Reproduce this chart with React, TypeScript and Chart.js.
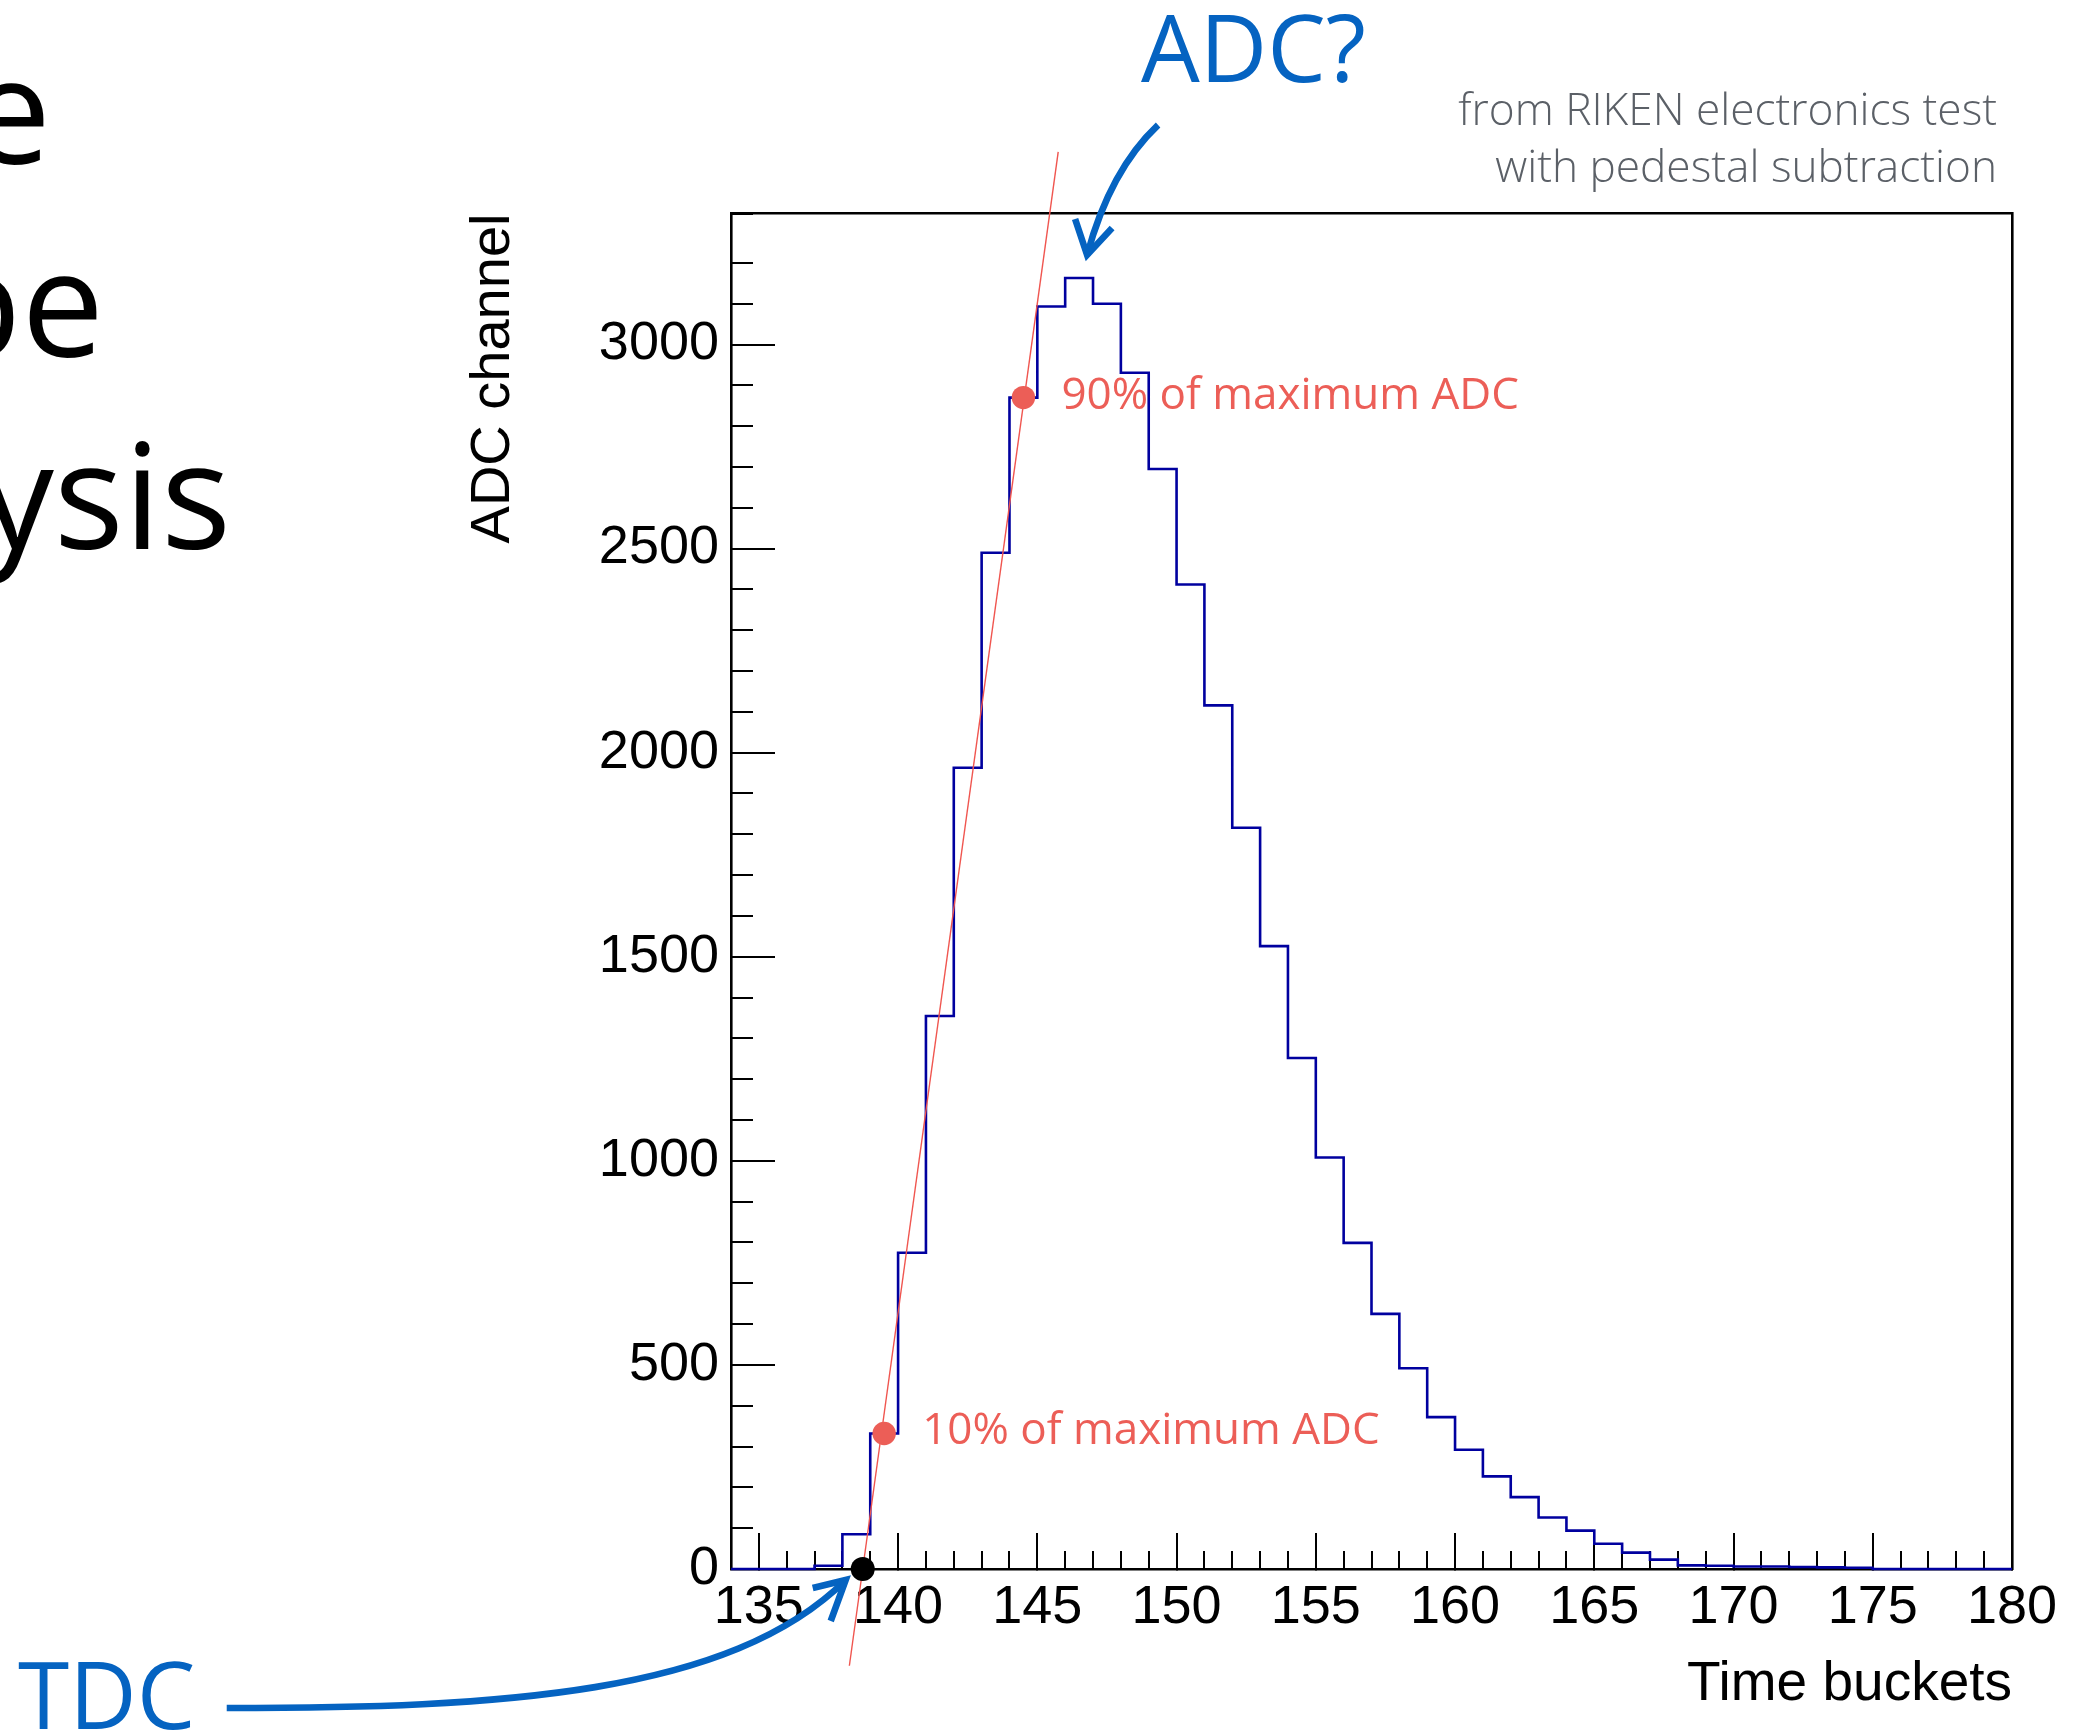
import React, { useEffect, useRef } from 'react';
import { Chart, registerables } from 'chart.js';

Chart.register(...registerables);

// ---------- data ----------
// lower edges of the time-bucket bins and their ADC content
const binEdges = [
  134, 135, 136, 137, 138, 139, 140, 141, 142, 143, 144, 145, 146, 147, 148, 149,
  150, 151, 152, 153, 154, 155, 156, 157, 158, 159, 160, 161, 162, 163, 164, 165,
  166, 167, 168, 169, 170, 171, 172, 173, 174, 175, 176, 177, 178, 179,
];
const adcValues = [
  0, 0, 0, 8, 85, 332, 775, 1355, 1963, 2490, 2870, 3093, 3163, 3100, 2931, 2695,
  2412, 2116, 1816, 1526, 1252, 1008, 799, 625, 492, 372, 292, 227, 176, 126, 94, 62,
  40, 23, 9, 8, 6, 6, 5, 4, 3, 0, 0, 0, 0, 0,
];
const histEnd = 180;

// straight line through the 10% / 90% points (extended)
const fitX = [138.25, 145.75];
const fitY = [-237, 3472];

// 10% and 90% of maximum markers
const markerX = [139.5, 144.5];
const markerY = [332, 2870];
const markerLabels = ['10% of maximum ADC', '90% of maximum ADC'];

// TDC (zero crossing of the line)
const tdcX = [138.73];
const tdcY = [0];

// axes
const xRange = [134, 180];
const yRange = [0, 3321];
const xMajorTicks = [135, 140, 145, 150, 155, 160, 165, 170, 175, 180];
const yMajorTicks = [0, 500, 1000, 1500, 2000, 2500, 3000];
const xMinorStep = 1;
const yMinorStep = 100;
const xTitle = 'Time buckets';
const yTitle = 'ADC channel';

// slide texts
const titleFragments = ['Pulse', 'shape', 'analysis'];
const noteLines = ['from RIKEN electronics test', 'with pedestal subtraction'];
const adcQuestion = 'ADC?';
const tdcLabel = 'TDC';

const BLUE = '#0563c1';
const RED = '#ec5e57';
const HIST = '#00009f';
const AXIS_FONT = '"Liberation Sans", Arial, Helvetica, sans-serif';
const SLIDE_FONT = '"Open Sans", "Noto Sans", sans-serif';

const annotationPlugin = {
  id: 'slideAnnotations',
  afterDraw(chart: any) {
    const ctx = chart.ctx as CanvasRenderingContext2D;
    const xs = chart.scales.x;
    const ys = chart.scales.y;
    ctx.save();

    // cut-off slide title on the left
    ctx.fillStyle = '#000';
    ctx.font = `400 147px ${SLIDE_FONT}`;
    ctx.textAlign = 'right';
    ctx.textBaseline = 'alphabetic';
    const fragRight = [51, 104, 231];
    const fragBase = [164, 357, 549];
    titleFragments.forEach((t, i) => ctx.fillText(t, fragRight[i], fragBase[i]));

    // note top right
    ctx.fillStyle = '#5b6067';
    ctx.font = `300 44.2px ${SLIDE_FONT}`;
    ctx.fillText(noteLines[0], 1997, 125);
    ctx.fillText(noteLines[1], 1997, 182);

    // blue labels
    ctx.textAlign = 'left';
    ctx.fillStyle = BLUE;
    ctx.font = `500 93px ${SLIDE_FONT}`;
    ctx.fillText(adcQuestion, 1141, 82);
    ctx.fillText(tdcLabel, 18, 1729);

    // threshold labels
    ctx.fillStyle = RED;
    ctx.font = `400 44px ${SLIDE_FONT}`;
    markerX.forEach((mx, i) => {
      ctx.fillText(markerLabels[i], xs.getPixelForValue(mx) + 38, ys.getPixelForValue(markerY[i]) + 11);
    });

    // arrows
    ctx.strokeStyle = BLUE;
    ctx.lineWidth = 6.6;
    ctx.lineCap = 'butt';
    ctx.lineJoin = 'miter';

    // ADC arrow pointing at the peak
    const peakVal = Math.max(...adcValues);
    const peakIdx = adcValues.indexOf(peakVal);
    const ax = xs.getPixelForValue(binEdges[peakIdx] + 0.5) + 8;
    const ay = ys.getPixelForValue(peakVal) - 23;
    ctx.beginPath();
    ctx.moveTo(ax + 71, ay - 130);
    ctx.quadraticCurveTo(ax + 23, ay - 85, ax, ay);
    ctx.stroke();
    ctx.beginPath();
    ctx.moveTo(ax - 12, ay - 36);
    ctx.lineTo(ax, ay);
    ctx.lineTo(ax + 25, ay - 27);
    ctx.stroke();

    // TDC arrow pointing at the zero crossing
    const tx = xs.getPixelForValue(tdcX[0]) - 17;
    const ty = ys.getPixelForValue(tdcY[0]) + 11;
    ctx.beginPath();
    ctx.moveTo(tx - 619, ty + 128);
    ctx.bezierCurveTo(tx - 346, ty + 128, tx - 116, ty + 115, tx, ty);
    ctx.stroke();
    ctx.beginPath();
    ctx.moveTo(tx - 33, ty + 8);
    ctx.lineTo(tx, ty);
    ctx.lineTo(tx - 15, ty + 41);
    ctx.stroke();

    ctx.restore();
  },
};

export default function App() {
  const canvasRef = useRef<HTMLCanvasElement | null>(null);

  useEffect(() => {
    document.body.style.margin = '0';
    document.body.style.overflow = 'hidden';
    const canvas = canvasRef.current;
    if (!canvas) return;

    const histData = binEdges.map((x, i) => ({ x, y: adcValues[i] }));
    histData.push({ x: histEnd, y: 0 });

    const frameAxis = (position: string, min: number, max: number, horizontal: boolean) => ({
      type: 'linear',
      position,
      min,
      max,
      weight: 0,
      afterFit: (s: any) => {
        if (horizontal) s.height = 0;
        else s.width = 0;
      },
      ticks: { display: false },
      grid: { display: true, drawOnChartArea: false, drawTicks: false },
      border: { display: true, width: 2.6, color: '#000' },
    });

    const chart = new Chart(canvas, {
      type: 'line',
      data: {
        datasets: [
          {
            label: 'TDC',
            data: tdcX.map((x, i) => ({ x, y: tdcY[i] })),
            showLine: false,
            pointRadius: 12,
            pointBackgroundColor: '#000',
            pointBorderWidth: 0,
            clip: false,
            order: 0,
          },
          {
            label: 'thresholds',
            data: markerX.map((x, i) => ({ x, y: markerY[i] })),
            showLine: false,
            pointRadius: 11.7,
            pointBackgroundColor: RED,
            pointBorderWidth: 0,
            clip: false,
            order: 1,
          },
          {
            label: 'line',
            data: fitX.map((x, i) => ({ x, y: fitY[i] })),
            borderColor: '#f0554f',
            borderWidth: 1.4,
            pointRadius: 0,
            fill: false,
            clip: false,
            order: 2,
          },
          {
            label: 'ADC',
            data: histData,
            stepped: true,
            borderColor: HIST,
            borderWidth: 2.6,
            pointRadius: 0,
            fill: false,
            clip: false,
            order: 3,
          },
        ],
      } as any,
      options: {
        responsive: false,
        animation: false,
        devicePixelRatio: 1,
        events: [],
        layout: { padding: { left: 0, right: 72, top: 213.5, bottom: 0 } },
        plugins: { legend: { display: false }, tooltip: { enabled: false } },
        scales: {
          x: {
            type: 'linear',
            position: 'bottom',
            min: xRange[0],
            max: xRange[1],
            weight: 1,
            afterBuildTicks: (s: any) => { s.ticks = xMajorTicks.map((value) => ({ value })); },
            afterFit: (s: any) => { s.height = 162; },
            ticks: {
              autoSkip: false,
              maxRotation: 0,
              minRotation: 0,
              padding: 0,
              color: '#000',
              font: { family: AXIS_FONT, size: 54, lineHeight: 2.78 },
              callback: (v: any) => String(v),
            },
            grid: { display: true, drawOnChartArea: false, drawTicks: true, tickLength: -36, tickWidth: 2, tickColor: '#000', lineWidth: 2 },
            border: { display: true, width: 2.6, color: '#000' },
            title: {
              display: true,
              text: xTitle,
              align: 'end',
              color: '#000',
              font: { family: AXIS_FONT, size: 55, lineHeight: 1 },
              padding: { top: 0, bottom: 19 },
            },
          },
          xMinor: {
            type: 'linear',
            position: 'bottom',
            min: xRange[0],
            max: xRange[1],
            weight: 0,
            afterFit: (s: any) => { s.height = 0; },
            ticks: { display: false, stepSize: xMinorStep, autoSkip: false },
            grid: { display: true, drawOnChartArea: false, drawTicks: true, tickLength: -18, tickWidth: 2, tickColor: '#000', lineWidth: 2 },
            border: { display: false },
          },
          xTop: frameAxis('top', xRange[0], xRange[1], true),
          y: {
            type: 'linear',
            position: 'left',
            min: yRange[0],
            max: yRange[1],
            weight: 1,
            afterBuildTicks: (s: any) => { s.ticks = yMajorTicks.map((value) => ({ value })); },
            afterFit: (s: any) => { s.width = 731; },
            ticks: {
              autoSkip: false,
              padding: 56,
              color: '#000',
              font: { family: AXIS_FONT, size: 54, lineHeight: 1 },
              callback: (v: any) => String(v),
            },
            grid: { display: true, drawOnChartArea: false, drawTicks: true, tickLength: -44, tickWidth: 2, tickColor: '#000', lineWidth: 2 },
            border: { display: true, width: 2.6, color: '#000' },
            title: {
              display: true,
              text: yTitle,
              align: 'end',
              color: '#000',
              font: { family: AXIS_FONT, size: 56, lineHeight: 1 },
              padding: { top: 466, bottom: 0 },
            },
          },
          yMinor: {
            type: 'linear',
            position: 'left',
            min: yRange[0],
            max: yRange[1],
            weight: 0,
            afterFit: (s: any) => { s.width = 0; },
            ticks: { display: false, stepSize: yMinorStep, autoSkip: false },
            grid: { display: true, drawOnChartArea: false, drawTicks: true, tickLength: -22, tickWidth: 2, tickColor: '#000', lineWidth: 2 },
            border: { display: false },
          },
          yRight: frameAxis('right', yRange[0], yRange[1], false),
        },
      } as any,
      plugins: [annotationPlugin],
    });

    return () => chart.destroy();
  }, []);

  return (
    <div style={{ position: 'fixed', left: 0, top: 0, width: 2084, height: 1731, overflow: 'hidden', background: '#fff' }}>
      <canvas ref={canvasRef} width={2084} height={1731} style={{ display: 'block', width: 2084, height: 1731 }} />
    </div>
  );
}
